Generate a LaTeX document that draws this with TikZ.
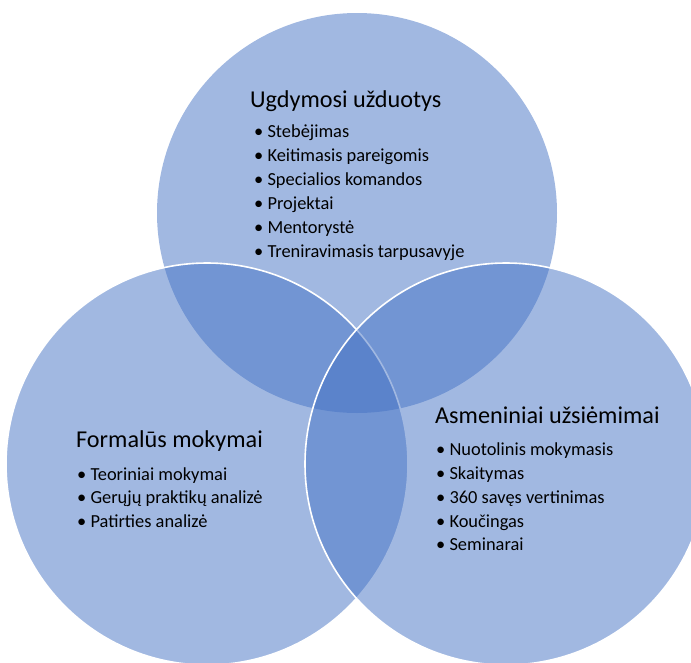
\documentclass[tikz,border=0pt]{standalone}
\usepackage{fontspec}
\setmainfont{Carlito}
\definecolor{vennblue}{RGB}{68,114,196}
\begin{document}
\begin{tikzpicture}[x=1pt,y=-1pt,
  ring/.style={fill=vennblue,fill opacity=0.5},
  rim/.style={draw=white,line width=1.6pt},
  heading/.style={anchor=base west,inner sep=0pt,font=\fontsize{24.2}{29}\selectfont},
  item/.style={anchor=base west,inner sep=0pt,font=\fontsize{18.4}{22}\selectfont}]
\useasboundingbox (0,0) rectangle (691,662);
\clip (0,0) rectangle (691,662);

% three overlapping circles
\fill[ring] (357,213) circle (200);
\fill[ring] (207,464) circle (201);
\draw[rim] (207,464) circle (201);
\fill[ring] (506,464) circle (201);
\draw[rim] (506,464) circle (201);

% upper circle text
\node[heading] (t0) at (250,107) {Ugdymosi užduotys};
\node[item] (t1) at (254,137) {• Stebėjimas};
\node[item] (t2) at (254,161) {• Keitimasis pareigomis};
\node[item] (t3) at (254,185) {• Specialios komandos};
\node[item] (t4) at (254,209) {• Projektai};
\node[item] (t5) at (254,233) {• Mentorystė};
\node[item] (t6) at (254,257) {• Treniravimasis tarpusavyje};

% left circle text
\node[heading] (l0) at (76,447) {Formalūs mokymai};
\node[item] (l1) at (77,480) {• Teoriniai mokymai};
\node[item] (l2) at (77,503) {• Gerųjų praktikų analizė};
\node[item] (l3) at (77,527) {• Patirties analizė};

% right circle text
\node[heading] (r0) at (435,423) {Asmeniniai užsiėmimai};
\node[item] (r1) at (436,455) {• Nuotolinis mokymasis};
\node[item] (r2) at (436,479) {• Skaitymas};
\node[item] (r3) at (436,503) {• 360 savęs vertinimas};
\node[item] (r4) at (436,527) {• Koučingas};
\node[item] (r5) at (436,550) {• Seminarai};
\end{tikzpicture}
\end{document}
